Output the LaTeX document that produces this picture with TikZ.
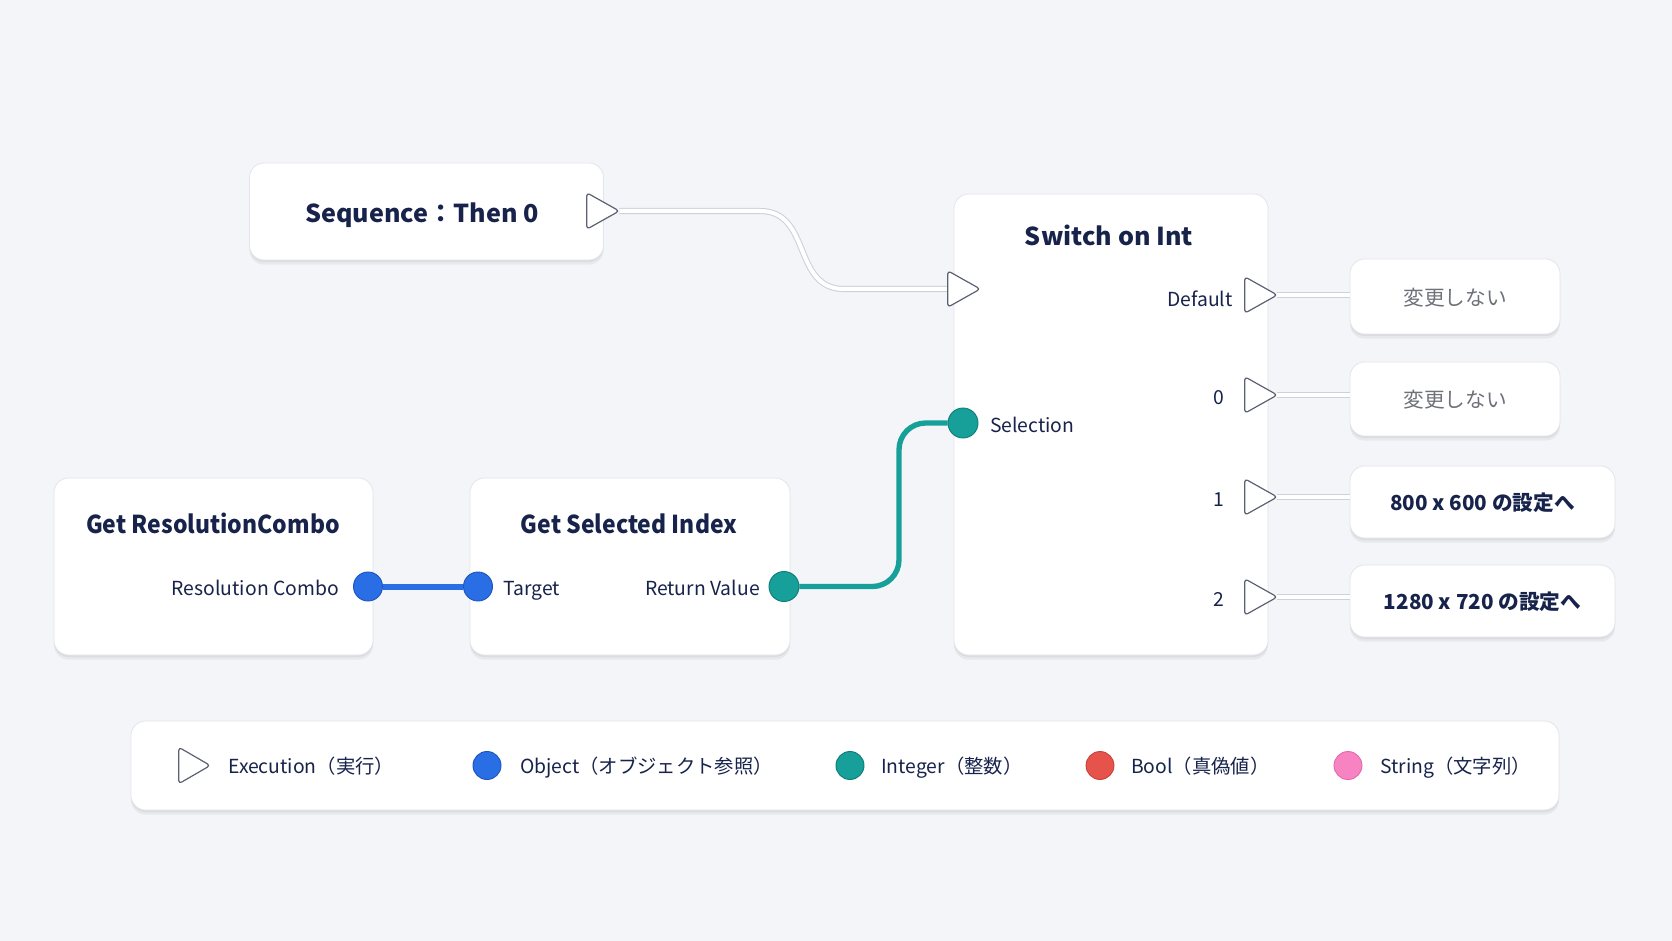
\documentclass[tikz,border=0pt]{standalone}
\usepackage{fontspec}
\setmainfont{Noto Sans CJK JP}
\definecolor{bgc}{HTML}{F4F5F8}
\definecolor{navy}{HTML}{17234B}
\definecolor{grayt}{HTML}{6E7179}
\definecolor{cardline}{HTML}{E2E5EB}
\definecolor{pinline}{HTML}{5B6173}
\definecolor{execline}{HTML}{CDD1D8}
\definecolor{objblue}{HTML}{2A6EE6}
\definecolor{objdark}{HTML}{1D55C0}
\definecolor{intteal}{HTML}{17A099}
\definecolor{intdark}{HTML}{0F7D78}
\definecolor{boolred}{HTML}{E5534B}
\definecolor{booldark}{HTML}{C43D36}
\definecolor{strpink}{HTML}{F783C3}
\definecolor{strdark}{HTML}{E064A8}
\pgfdeclarelayer{cards}
\pgfdeclarelayer{conn}
\pgfsetlayers{cards,conn,main}
\tikzset{
  card/.style={draw=cardline, fill=white, line width=0.6pt, rounded corners=11pt,
    preaction={fill=black, opacity=0.05, transform canvas={yshift=-3.5pt}},
    preaction={fill=black, opacity=0.05, transform canvas={yshift=-1.5pt}}},
  titletxt/.style={text=navy, font=\fontsize{18.5}{22}\selectfont\bfseries, inner sep=0pt, anchor=mid},
  labeltxt/.style={text=navy, font=\fontsize{14.5}{18}\selectfont, inner sep=0pt},
  graytxt/.style={text=grayt, font=\fontsize{15.5}{19}\selectfont, inner sep=0pt, anchor=mid},
  targettxt/.style={text=navy, font=\fontsize{15.5}{19}\selectfont\bfseries, inner sep=0pt, anchor=mid},
  legtxt/.style={text=navy, font=\fontsize{14.5}{18}\selectfont, inner sep=0pt, anchor=mid west},
  pinbox/.style={inner sep=0pt, minimum width=32*0.75pt, minimum height=36*0.75pt},
  exectri/.style={draw=pinline, fill=white, line width=0.9pt, rounded corners=2.5pt, line join=round},
  objpin/.style={circle, inner sep=0pt, minimum size=29*0.75pt, fill=objblue, draw=objdark, line width=0.7pt},
  intpin/.style={circle, inner sep=0pt, minimum size=30*0.75pt, fill=intteal, draw=intdark, line width=0.7pt},
  boolpin/.style={circle, inner sep=0pt, minimum size=28*0.75pt, fill=boolred, draw=booldark, line width=0.6pt},
  strpin/.style={circle, inner sep=0pt, minimum size=28*0.75pt, fill=strpink, draw=strdark, line width=0.6pt},
  execwire/.style={draw=execline, line width=0.8pt, double=white, double distance=3pt},
  objwire/.style={draw=objblue, line width=4.5pt},
  intwire/.style={draw=intteal, line width=4pt, rounded corners=20pt},
}
\newcommand{\exectriangle}[1]{\draw[exectri] (#1.north west) -- (#1.east) -- (#1.south west) -- cycle;}
\begin{document}
\begin{tikzpicture}[x=0.75pt,y=-0.75pt]
\begin{pgfonlayer}{cards}
  \fill[bgc] (0,0) rectangle (1672,941);
  \node[card, minimum width=354*0.75pt, minimum height=97*0.75pt] (seq) at (426.5,211.5) {};
  \node[card, minimum width=314*0.75pt, minimum height=461*0.75pt] (sw) at (1111,424.5) {};
  \node[card, minimum width=319*0.75pt, minimum height=177*0.75pt] (res) at (213.5,566.5) {};
  \node[card, minimum width=320*0.75pt, minimum height=177*0.75pt] (sel) at (630,566.5) {};
  \node[card, minimum width=210*0.75pt, minimum height=75*0.75pt] (outdef) at (1455,296.5) {};
  \node[card, minimum width=210*0.75pt, minimum height=74*0.75pt] (outzero) at (1455,399) {};
  \node[card, minimum width=265*0.75pt, minimum height=72*0.75pt] (outone) at (1482.5,502) {};
  \node[card, minimum width=265*0.75pt, minimum height=72*0.75pt] (outtwo) at (1482.5,601) {};
  \node[card, minimum width=1428*0.75pt, minimum height=89*0.75pt] (legend) at (845,765.5) {};
\end{pgfonlayer}

% titles and labels
\node[titletxt, xscale=1.02] (seqt) at (422,218.5) {Sequence：Then 0};
\node[titletxt, xscale=1.02] (swt) at (1109,241.5) {Switch on Int};
\node[titletxt, xscale=0.93] (rest) at (213,529.5) {Get ResolutionCombo};
\node[titletxt, xscale=0.93] (selt) at (629,529.5) {Get Selected Index};
\node[labeltxt, anchor=mid east] (rcl) at (339,591.5) {Resolution Combo};
\node[labeltxt, anchor=mid west] (tgl) at (503,591.5) {Target};
\node[labeltxt, anchor=mid east] (rvl) at (760,591.5) {Return Value};
\node[labeltxt, anchor=mid west] (sell) at (990,428.5) {Selection};
\node[labeltxt, anchor=mid east] (defl) at (1233,302.5) {Default};
\node[labeltxt, anchor=mid east] (zerol) at (1224,401) {0};
\node[labeltxt, anchor=mid east] (onel) at (1224,502.5) {1};
\node[labeltxt, anchor=mid east] (twol) at (1224,602.5) {2};
\node[graytxt] (outdeft) at ([yshift=-4pt]outdef.center) {変更しない};
\node[graytxt] (outzerot) at ([yshift=-4pt]outzero.center) {変更しない};
\node[targettxt] (outonet) at ([yshift=-3.5pt]outone.center) {800 x 600 の設定へ};
\node[targettxt] (outtwot) at ([yshift=-3.5pt]outtwo.center) {1280 x 720 の設定へ};

% pins
\node[pinbox] (seqout) at (603,211) {};
\node[pinbox] (swin) at (964,289) {};
\node[pinbox] (swdef) at (1261,295) {};
\node[pinbox] (swzero) at (1261,395) {};
\node[pinbox] (swone) at (1261,497) {};
\node[pinbox] (swtwo) at (1261,597) {};
\exectriangle{seqout}
\exectriangle{swin}
\exectriangle{swdef}
\exectriangle{swzero}
\exectriangle{swone}
\exectriangle{swtwo}
\node[objpin] (rcpin) at (368,586.5) {};
\node[objpin] (tgpin) at (478,586.5) {};
\node[intpin] (rvpin) at (784,586.5) {};
\node[intpin] (selpin) at (963,423) {};

% connectors
\coordinate (ebend1) at (760,211);
\coordinate (ebend2) at (844,289);
\coordinate (tbend) at (899,500);
\begin{pgfonlayer}{conn}
  \draw[execwire] (seqout.east) -- (ebend1) .. controls (812,211) and (792,289) .. (ebend2) -- (swin.west);
  \draw[execwire] (swdef.east) -- (swdef.east -| outdef.west);
  \draw[execwire] (swzero.east) -- (swzero.east -| outzero.west);
  \draw[execwire] (swone.east) -- (swone.east -| outone.west);
  \draw[execwire] (swtwo.east) -- (swtwo.east -| outtwo.west);
  \draw[objwire] (rcpin) -- (tgpin);
  \draw[intwire] (rvpin.east) -| (tbend) |- (selpin.west);
\end{pgfonlayer}

% legend
\node[pinbox, minimum width=31*0.75pt] (legexec) at (194.5,765.5) {};
\exectriangle{legexec}
\node[legtxt] (legexect) at (228,770) {Execution（実行）};
\node[objpin, minimum size=28*0.75pt] (legobj) at (487,765.5) {};
\node[legtxt] (legobjt) at (520,770) {Object（オブジェクト参照）};
\node[intpin, minimum size=28*0.75pt] (legint) at (850,765.5) {};
\node[legtxt] (legintt) at (881,770) {Integer（整数）};
\node[boolpin] (legbool) at (1100,765.5) {};
\node[legtxt] (legboolt) at (1131,770) {Bool（真偽値）};
\node[strpin] (legstr) at (1348,765.5) {};
\node[legtxt] (legstrt) at (1380,770) {String（文字列）};
\useasboundingbox (0,0) rectangle (1672,941);
\end{tikzpicture}
\end{document}
